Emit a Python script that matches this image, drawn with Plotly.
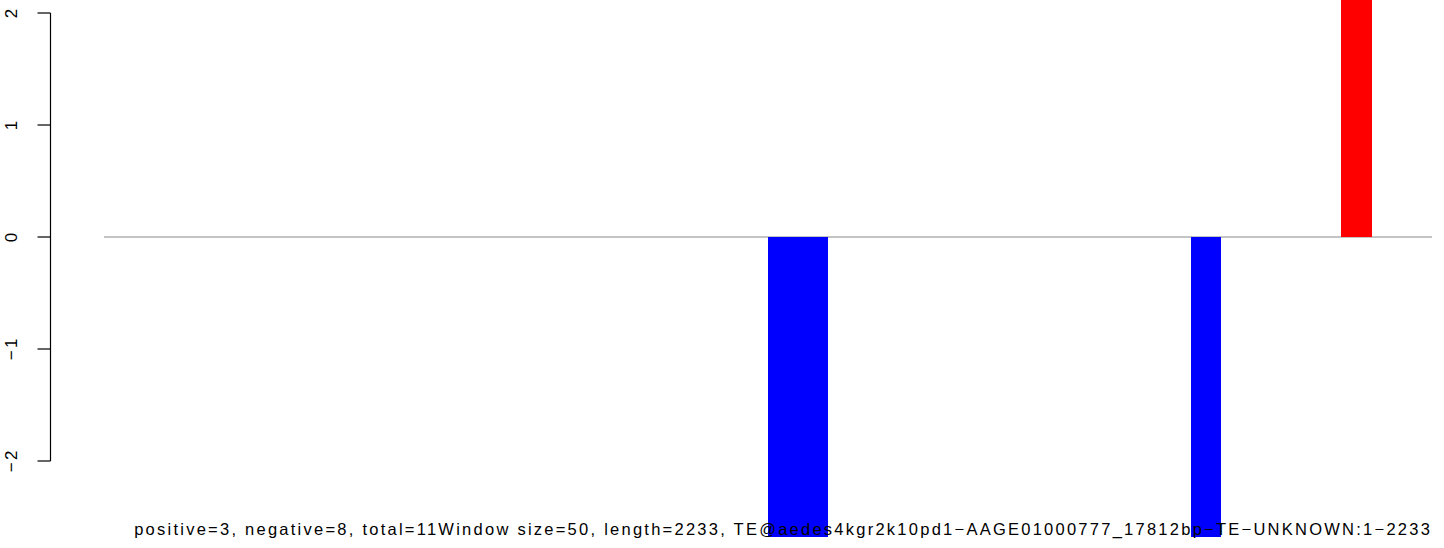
import plotly.graph_objects as go

# ---- data ----
window_index = list(range(44))
window_values = [0.0] * 44
window_values[22] = -2.7
window_values[23] = -2.7
window_values[36] = -2.7
window_values[41] = 2.2

y_ticks = [-2, -1, 0, 1, 2]
y_tick_labels = ["\u22122", "\u22121", "0", "1", "2"]

caption = ("positive=3, negative=8, total=11Window size=50, length=2233, "
           "TE@aedes4kgr2k10pd1\u2212AAGE01000777_17812bp\u2212TE\u2212UNKNOWN:1\u22122233")

W, H = 1444, 548
L, R, T, B = 104, 12, 0, 11
plot_w = W - L - R

def px_to_paper_x(px):
    return (px - L) / plot_w

colors = ["red" if v > 0 else "blue" for v in window_values]

fig = go.Figure()
fig.add_trace(go.Bar(
    x=[i + 0.5 for i in window_index],
    y=window_values,
    width=1.0,
    marker=dict(color=colors, line=dict(width=0)),
    showlegend=False,
    hoverinfo="x+y",
))

shapes = []
# zero line
shapes.append(dict(type="line", xref="paper", yref="y", x0=0, x1=1, y0=0, y1=0,
                   line=dict(color="#888888", width=1), layer="below"))
# y axis line
ax_x = px_to_paper_x(50.5)
shapes.append(dict(type="line", xref="paper", yref="y", x0=ax_x, x1=ax_x,
                   y0=min(y_ticks), y1=max(y_ticks), line=dict(color="black", width=1.2)))
annotations = []
for t, lab in zip(y_ticks, y_tick_labels):
    shapes.append(dict(type="line", xref="paper", yref="y", x0=px_to_paper_x(37.5), x1=ax_x,
                       y0=t, y1=t, line=dict(color="black", width=1.2)))
    annotations.append(dict(xref="paper", yref="y", x=px_to_paper_x(11), y=t, text=lab,
                            showarrow=False, textangle=-90, xanchor="center", yanchor="middle",
                            font=dict(family="Liberation Sans, Arial, sans-serif", size=17, color="black")))

annotations.append(dict(xref="paper", yref="y", x=px_to_paper_x(782.5), y=-(529 - 237) / 112, text=caption,
                        showarrow=False, xanchor="center", yanchor="middle",
                        font=dict(family="Liberation Sans, Arial, sans-serif", size=16.5, color="black")))

fig.update_layout(
    width=W, height=H,
    margin=dict(l=L, r=R, t=T, b=B),
    paper_bgcolor="white", plot_bgcolor="white",
    xaxis=dict(range=[0, 44], visible=False, fixedrange=True),
    yaxis=dict(range=[-(537 - 237) / 112, 237 / 112], visible=False, fixedrange=True),
    shapes=shapes,
    annotations=annotations,
    bargap=0,
)

post = """
document.body.style.margin='0';
document.body.style.overflow='hidden';
var gd = document.getElementById('{plot_id}');
function widen(){
  gd.querySelectorAll('.annotation-text').forEach(function(el){
    el.style.letterSpacing = '2.25px';
  });
}
widen();
if (gd && gd.on) { gd.on('plotly_afterplot', widen); }
setTimeout(widen, 50);
"""

fig.write_html("out.html", config={"displayModeBar": False},
               post_script=post)
